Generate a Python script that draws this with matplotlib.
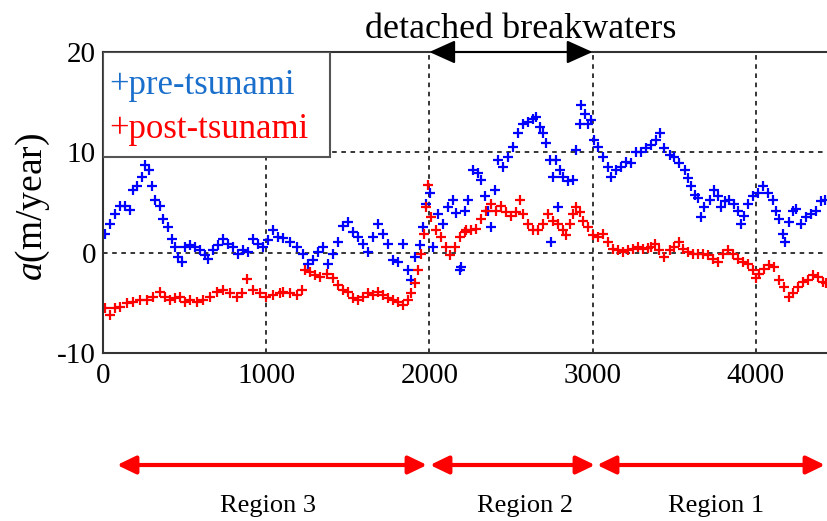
import matplotlib
matplotlib.use("Agg")
import matplotlib.pyplot as plt
from matplotlib.patches import Rectangle, FancyArrowPatch, ArrowStyle
import numpy as np

plt.rcParams['font.family'] = 'Liberation Serif'
plt.rcParams['mathtext.fontset'] = 'custom'
plt.rcParams['mathtext.rm'] = 'Liberation Serif'
plt.rcParams['mathtext.it'] = 'Liberation Serif:italic'
plt.rcParams['axes.unicode_minus'] = False

# pre-tsunami (blue), distance along shore (m) and rate a (m/year)
pre_x = [12, 43, 74, 104, 135, 165, 186, 206, 236, 257, 284, 298, 318, 349, 370,
         400, 421, 441, 462, 482, 502, 533, 563, 594, 625, 645, 676, 706, 737, 768,
         798, 829, 860, 890, 921, 951, 982, 1012, 1043, 1074, 1104, 1145, 1186, 1227,
         1257, 1288, 1319, 1349, 1380, 1410, 1441, 1472, 1502, 1533, 1563, 1594, 1625,
         1655, 1686, 1716, 1747, 1778, 1808, 1839, 1869, 1890, 1910, 1941, 1961, 1982,
         2002, 2022, 2053, 2084, 2114, 2145, 2166, 2186, 2196, 2217, 2237, 2268, 2298,
         2319, 2339, 2360, 2380, 2400, 2421, 2451, 2482, 2513, 2543, 2574, 2604, 2635,
         2655, 2676, 2696, 2717, 2737, 2747, 2757, 2778, 2788, 2798, 2819, 2849, 2880,
         2900, 2921, 2931, 2951, 2972, 2992, 3012, 3033, 3063, 3094, 3115, 3145, 3176,
         3206, 3237, 3268, 3298, 3329, 3359, 3390, 3415, 3441, 3472, 3502, 3533, 3564,
         3584, 3604, 3625, 3645, 3666, 3686, 3717, 3747, 3768, 3788, 3809, 3839, 3870,
         3890, 3911, 3931, 3951, 3982, 4013, 4043, 4074, 4104, 4125, 4145, 4166, 4182,
         4202, 4227, 4247, 4278, 4308, 4339, 4370, 4400, 4427]
pre_a = [1.9, 2.9, 3.9, 4.7, 4.7, 4.3, 6.2, 6.6, 7.5, 8.7, 8.2, 6.6, 5.2, 4.7, 3.4,
         2.6, 1.4, 0.6, -0.4, -0.9, 0.6, 0.8, 0.6, 0.3, -0.2, -0.6, 0.3, 0.8, 1.4, 0.9,
         0.6, -0.1, 0.3, 0.1, 1.4, 0.9, 0.6, 1.3, 2.3, 1.6, 1.5, 1.1, 0.6, -0.1,
         -1.1, -0.7, 0.1, 0.6, -1.1, -0.1, 1.1, 2.7, 3.1, 2.1, 1.6, 0.9, 0.1,
         1.6, 2.9, 1.9, 0.9, -0.7, -0.9, 0.9, -1.7, -2.7, -0.4, 0.8, 2.6, 4.9,
         5.9, 0.6, 3.9, 2.9, 4.6, 5.2, 4.0, -1.7, -1.4, 4.2, 5.2, 8.2, 7.9,
         7.2, 5.6, 4.2, 2.6, 6.2, 9.2, 8.5, 9.5, 10.5, 11.9, 12.8, 13.0, 13.3,
         13.5, 12.5, 11.9, 10.9, 9.2, 1.1, 7.5, 9.2, 4.6, 8.2, 7.5, 7.1, 7.2,
         10.2, 12.8, 14.7, 13.8, 12.8, 13.2, 11.2, 10.5, 9.5, 8.5, 7.5, 8.2, 8.5,
         9.0, 8.9, 10.0, 10.0, 10.4, 10.7, 11.2, 11.9, 10.4, 9.7, 9.5, 8.9, 8.2,
         7.4, 6.6, 5.7, 5.4, 3.6, 4.6, 5.2, 6.2, 5.6, 4.6, 5.1, 5.2, 4.9,
         4.2, 2.9, 3.7, 4.9, 5.6, 5.9, 6.6, 5.9, 5.2, 4.2, 3.4, 1.9, 1.1,
         3.1, 4.2, 4.4, 2.9, 3.6, 3.9, 4.2, 5.1, 5.2]

# post-tsunami (red)
post_x = [12, 43, 74, 104, 145, 186, 226, 267, 308, 349, 380, 410, 441, 472, 502,
          533, 574, 615, 655, 696, 737, 778, 819, 849, 880, 921, 962, 1002, 1043, 1084,
          1104, 1145, 1186, 1217, 1237, 1268, 1298, 1329, 1370, 1410, 1441, 1472, 1502,
          1533, 1563, 1594, 1625, 1655, 1686, 1716, 1747, 1778, 1808, 1839, 1869, 1890,
          1910, 1931, 1951, 1965, 1982, 1992, 2012, 2043, 2074, 2104, 2125, 2155, 2186,
          2217, 2227, 2257, 2288, 2319, 2349, 2380, 2410, 2441, 2472, 2502, 2533, 2553,
          2574, 2604, 2635, 2666, 2696, 2727, 2757, 2788, 2819, 2839, 2860, 2880, 2900,
          2921, 2941, 2972, 3002, 3033, 3063, 3094, 3125, 3155, 3186, 3216, 3247, 3278,
          3308, 3339, 3359, 3380, 3410, 3441, 3472, 3502, 3529, 3553, 3584, 3615, 3645,
          3676, 3706, 3737, 3768, 3798, 3829, 3860, 3890, 3921, 3951, 3982, 4002, 4023,
          4053, 4084, 4114, 4145, 4176, 4206, 4231, 4257, 4288, 4318, 4349, 4380, 4410,
          4431]
post_a = [-5.5, -6.2, -5.5, -5.4, -5.0, -4.9, -4.7, -4.7, -4.4, -3.9, -4.4, -4.7, -4.5, -4.4, -4.9,
          -4.7, -4.9, -4.7, -4.4, -3.9, -3.7, -4.0, -4.4, -4.0, -2.6, -3.7, -4.0, -4.4, -4.2, -4.0,
          -3.9, -4.0, -4.2, -3.7, -1.7, -1.9, -2.2, -2.4, -2.1, -2.5, -3.2, -3.7, -3.9,
          -4.5, -4.7, -4.4, -4.0, -4.2, -3.9, -4.2, -4.5, -4.7, -4.9, -5.2, -4.7, -4.0,
          -3.0, -1.7, -0.1, 1.9, 4.6, 6.7, 3.6, 2.3, 1.6, 0.6, -0.2, 0.6, 1.6,
          2.1, 2.3, 2.3, 2.4, 3.4, 4.2, 4.9, 4.2, 4.7, 4.1, 3.7, 4.1, 5.2,
          3.9, 2.9, 2.3, 2.3, 2.9, 3.9, 3.2, 2.9, 2.3, 1.8, 2.9, 3.9, 4.6,
          4.1, 3.2, 2.6, 1.8, 1.6, 1.9, 1.1, 0.4, 0.3, 0.1, 0.3, 0.4, 0.6,
          0.4, 0.5, 0.6, 0.9, 0.3, -0.4, 0.3, 0.6, 1.1, 0.4, 0.1, -0.1, -0.1,
          -0.1, -0.2, -0.6, -0.9, -0.1, 0.3, -0.1, -0.6, -0.9, -1.1, -1.7, -2.5, -2.1,
          -1.6, -1.2, -1.4, -2.7, -3.4, -4.4, -4.0, -3.4, -2.9, -2.7, -2.2, -2.4, -2.9,
          -3.0]

xticks = [0, 1000, 2000, 3000, 4000]
yticks = [-10, 0, 10, 20]
regions = ["Region 3", "Region 2", "Region 1"]

fig = plt.figure(figsize=(8.27, 5.21), dpi=100)
ax = fig.add_axes([103/827, 1 - 353/521, 1 - 103/827, 301/521])

ax.plot(pre_x, pre_a, linestyle='none', marker='+', color='#0000ff', ms=7, mew=1.6)
ax.plot(post_x, post_a, linestyle='none', marker='+', color='#ff0000', ms=7, mew=1.6)

ax.set_xlim(0, 4437)
ax.set_ylim(-10, 20)
ax.set_xticks(xticks)
ax.set_yticks(yticks)
ax.tick_params(length=0, labelsize=21, pad=5)
ax.tick_params(axis='x', pad=7)
ax.spines['right'].set_visible(False)
for s in ['left', 'bottom', 'top']:
    ax.spines[s].set_color('#333333')
    ax.spines[s].set_linewidth(1.5)
ax.grid(True, color='black', linestyle=(0, (3, 3)), linewidth=1.1)
fig.text(33/827, 1 - 207/521, '$a$(m/year)', rotation=90, ha='center', va='center',
         fontsize=27)

# legend box drawn by hand (text only, coloured)
box = Rectangle((0, 1 - 105/301), 227/724, 105/301, transform=ax.transAxes,
                facecolor='white', edgecolor='#555555', lw=1.5, zorder=5)
ax.add_patch(box)
ax.text(6/724, 1 - 33/301, '+pre-tsunami', transform=ax.transAxes, color='#1a6fcc',
        fontsize=25, va='center', ha='left', zorder=6)
ax.text(6/724, 1 - 78/301, '+post-tsunami', transform=ax.transAxes, color='#ff0000',
        fontsize=25, va='center', ha='left', zorder=6)

# detached breakwaters arrow on the top edge
ax.annotate('', xy=(2000, 20), xytext=(3000, 20),
            arrowprops=dict(arrowstyle=ArrowStyle('<|-|>', head_length=0.8, head_width=0.36),
                            color='black', lw=1.5, mutation_scale=20,
                            shrinkA=0, shrinkB=0),
            annotation_clip=False)
ax.text(2560, 21.4, 'detached breakwaters', ha='center', va='baseline', fontsize=26)

# region arrows below the chart (figure pixel coords)
spans = [(117, 427), (430, 595), (597, 825)]
label_x = [268, 525, 716]
for (x0, x1), lab, lx in zip(spans, regions, label_x):
    fig.patches.append(FancyArrowPatch(
        (x0 / 827, 1 - 465 / 521), (x1 / 827, 1 - 465 / 521),
        transform=fig.transFigure,
        arrowstyle=ArrowStyle('<|-|>', head_length=0.56, head_width=0.27),
        color='#ff0000', lw=3, mutation_scale=20, shrinkA=0, shrinkB=0))
    fig.text(lx / 827, 1 - 506 / 521, lab, ha='center', va='center', fontsize=19)

fig.savefig('out.png', dpi=100)
